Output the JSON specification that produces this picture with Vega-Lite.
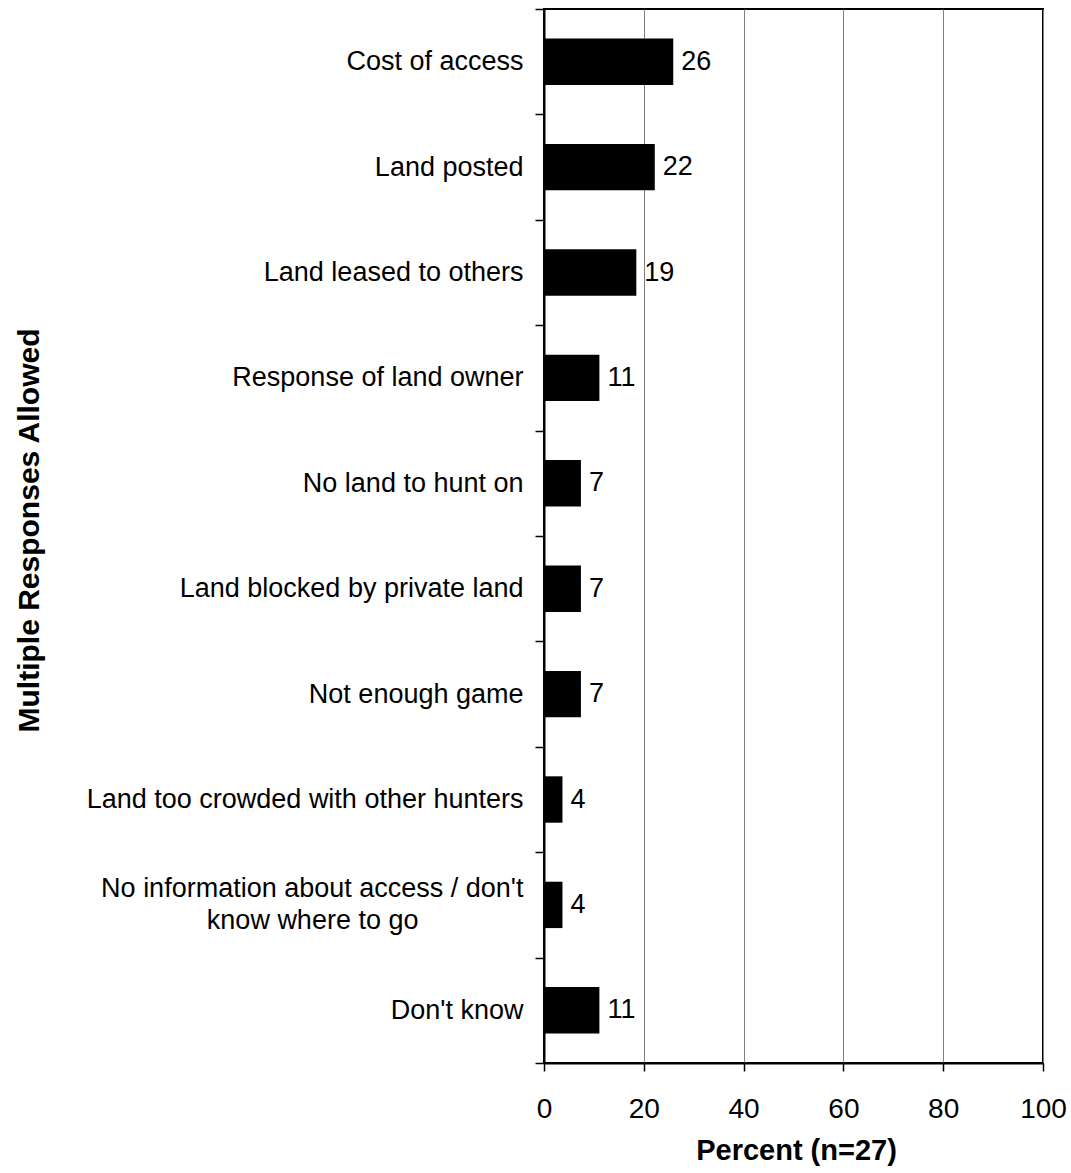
{
  "$schema": "https://vega.github.io/schema/vega-lite/v6.json",
  "width": 499,
  "height": 1054,
  "autosize": {"type": "none"},
  "padding": {"left": 544, "top": 9, "right": 28, "bottom": 110},
  "background": "white",
  "config": {
    "view": {"stroke": "black", "strokeWidth": 2},
    "font": "Liberation Sans"
  },
  "data": {
    "values": [
      {"reason": "Cost of access", "percent": 25.9, "label": "26"},
      {"reason": "Land posted", "percent": 22.2, "label": "22"},
      {"reason": "Land leased to others", "percent": 18.5, "label": "19"},
      {"reason": "Response of land owner", "percent": 11.1, "label": "11"},
      {"reason": "No land to hunt on", "percent": 7.4, "label": "7"},
      {"reason": "Land blocked by private land", "percent": 7.4, "label": "7"},
      {"reason": "Not enough game", "percent": 7.4, "label": "7"},
      {"reason": "Land too crowded with other hunters", "percent": 3.7, "label": "4"},
      {"reason": "No information about access / don't know where to go", "percent": 3.7, "label": "4"},
      {"reason": "Don't know", "percent": 11.1, "label": "11"}
    ]
  },
  "encoding": {
    "y": {
      "field": "reason",
      "type": "nominal",
      "sort": null,
      "scale": {"paddingInner": 0, "paddingOuter": 0},
      "axis": {
        "title": "Multiple Responses Allowed",
        "titleFont": "Liberation Sans",
        "titleFontSize": 30,
        "titleFontWeight": "bold",
        "titleColor": "black",
        "titleX": -515,
        "titleY": 521,
        "titleAlign": "center",
        "titleBaseline": "middle",
        "titleAngle": 270,
        "labelFont": "Liberation Sans",
        "labelFontSize": 27,
        "labelColor": "black",
        "labelPadding": 12,
        "labelLimit": 600,
        "labelLineHeight": 32,
        "labelOffset": {"condition": {"test": "datum.value == \"No information about access / don't know where to go\"", "value": -16}, "value": 0},
        "labelExpr": "datum.value == \"No information about access / don't know where to go\" ? [\"No information about access / don't\", \"know where to go\u00a0\u00a0\u00a0\u00a0\u00a0\u00a0\u00a0\u00a0\u00a0\u00a0\u00a0\u00a0\u00a0\u00a0\u200b\"] : datum.value",
        "tickBand": "extent",
        "tickSize": 9,
        "tickColor": "black",
        "tickWidth": 1.5,
        "domainColor": "black",
        "domainWidth": 2,
        "grid": false
      }
    },
    "x": {
      "field": "percent",
      "type": "quantitative",
      "scale": {"domain": [0, 100]},
      "axis": {
        "title": "Percent (n=27)",
        "titleFont": "Liberation Sans",
        "titleFontSize": 29,
        "titleFontWeight": "bold",
        "titleColor": "black",
        "titleX": 252,
        "titleY": 87,
        "titleAlign": "center",
        "titleBaseline": "middle",
        "values": [0, 20, 40, 60, 80, 100],
        "labelFont": "Liberation Sans",
        "labelFontSize": 28,
        "labelColor": "black",
        "labelPadding": 24,
        "labelFlush": false,
        "tickSize": 8,
        "tickColor": "black",
        "tickWidth": 1.5,
        "grid": true,
        "gridColor": "#808080",
        "gridWidth": 1,
        "domainColor": "black",
        "domainWidth": 2
      }
    }
  },
  "layer": [
    {"mark": {"type": "bar", "color": "black", "height": {"band": 0.44}}},
    {
      "mark": {"type": "text", "align": "left", "baseline": "middle", "dx": 8, "fontSize": 27, "font": "Liberation Sans", "color": "black"},
      "encoding": {"text": {"field": "label"}}
    }
  ]
}
